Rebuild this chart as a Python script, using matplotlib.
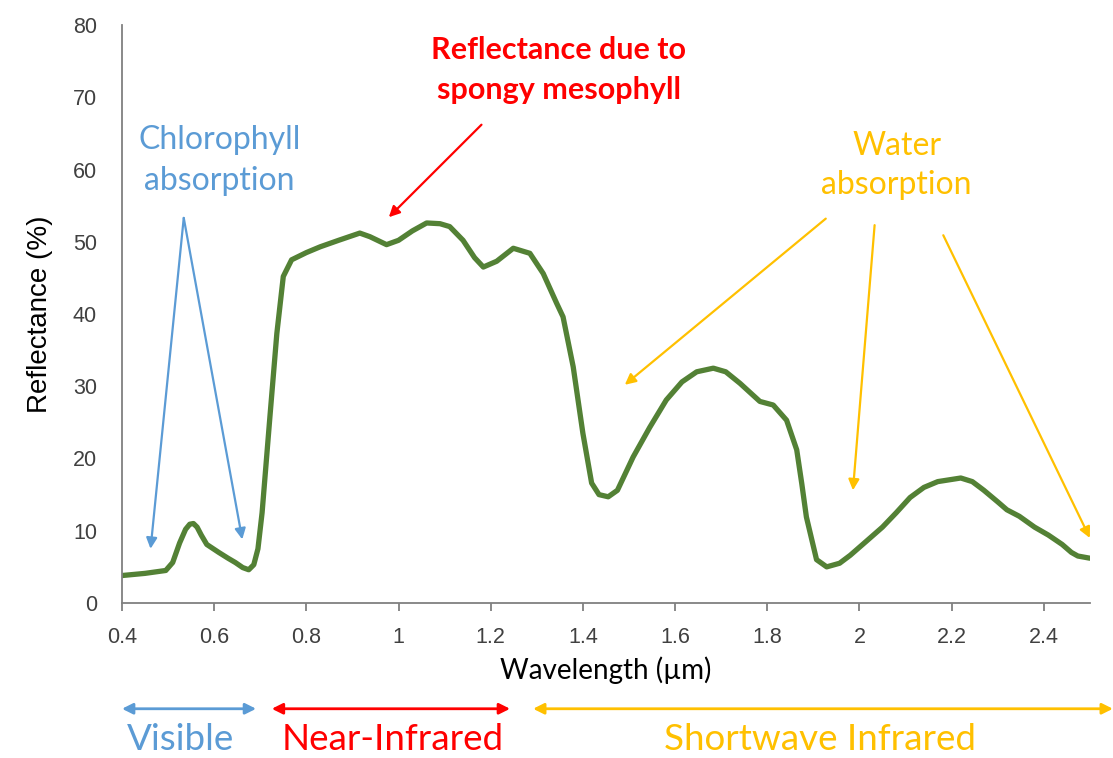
import matplotlib.pyplot as plt

# reflectance curve
wavelength = [0.40, 0.45, 0.495, 0.51, 0.525, 0.538, 0.547, 0.555, 0.563, 0.572,
              0.584, 0.61, 0.63, 0.646, 0.662, 0.675, 0.686, 0.695, 0.704, 0.721,
              0.736, 0.750, 0.768, 0.80, 0.83, 0.87, 0.916, 0.938, 0.974, 1.00,
              1.03, 1.061, 1.09, 1.111, 1.14, 1.165, 1.184, 1.213, 1.249, 1.285,
              1.314, 1.343, 1.357, 1.379, 1.40, 1.419, 1.435, 1.455, 1.475, 1.509,
              1.545, 1.581, 1.615, 1.647, 1.683, 1.71, 1.741, 1.784, 1.813, 1.842,
              1.864, 1.875, 1.885, 1.907, 1.929, 1.957, 1.98, 2.016, 2.05, 2.08,
              2.11, 2.14, 2.17, 2.20, 2.22, 2.245, 2.27, 2.30, 2.32, 2.347,
              2.38, 2.41, 2.44, 2.46, 2.474, 2.50]
reflectance = [3.8, 4.1, 4.5, 5.6, 8.3, 10.2, 10.9, 11.0, 10.5, 9.4,
               8.1, 7.0, 6.2, 5.6, 4.9, 4.6, 5.3, 7.5, 12.5, 25.8,
               37.3, 45.2, 47.5, 48.5, 49.3, 50.2, 51.2, 50.7, 49.6, 50.2,
               51.5, 52.6, 52.5, 52.1, 50.2, 47.8, 46.5, 47.3, 49.1, 48.4,
               45.6, 41.5, 39.6, 32.7, 23.5, 16.6, 15.0, 14.7, 15.6, 20.2,
               24.3, 28.1, 30.6, 32.0, 32.5, 32.0, 30.4, 27.9, 27.4, 25.3,
               21.2, 16.5, 11.9, 6.0, 5.0, 5.5, 6.6, 8.6, 10.5, 12.5,
               14.6, 16.0, 16.8, 17.1, 17.3, 16.8, 15.6, 14.0, 12.9, 12.0,
               10.5, 9.4, 8.1, 7.0, 6.5, 6.2]

x_ticks = [0.4, 0.6, 0.8, 1.0, 1.2, 1.4, 1.6, 1.8, 2.0, 2.2, 2.4]
x_tick_labels = ['0.4', '0.6', '0.8', '1', '1.2', '1.4', '1.6', '1.8', '2', '2.2', '2.4']
y_ticks = [0, 10, 20, 30, 40, 50, 60, 70, 80]

blue = '#5B9BD5'
red = '#FF0000'
gold = '#FFC000'
green = '#538135'
note_font = 'Lato'
note_size = 23

fig = plt.figure(figsize=(11.13, 7.58), dpi=100)
ax = fig.add_axes([0.1096, 0.2045, 0.8696, 0.7625])

ax.plot(wavelength, reflectance, color=green, lw=3.8, solid_capstyle='round',
        solid_joinstyle='round')

ax.set_xlim(0.4, 2.5)
ax.set_ylim(0, 80)
ax.set_xticks(x_ticks)
ax.set_xticklabels(x_tick_labels)
ax.set_yticks(y_ticks)
ax.spines['top'].set_visible(False)
ax.spines['right'].set_visible(False)
for s in ['left', 'bottom']:
    ax.spines[s].set_color('#808080')
    ax.spines[s].set_linewidth(1.3)
ax.tick_params(axis='x', direction='out', length=6, width=1.3, color='#808080',
               pad=11, labelsize=15.5, labelcolor='#404040')
ax.tick_params(axis='y', length=0, pad=18, labelsize=15.5, labelcolor='#404040')
for lab in ax.get_xticklabels() + ax.get_yticklabels():
    lab.set_family('Liberation Sans')

ax.set_xlabel('Wavelength (µm)', fontsize=20, family=note_font, labelpad=6)
ax.set_ylabel('Reflectance (%)', fontsize=20, family='Liberation Sans', labelpad=14)

def arrow(start, end, color):
    ax.annotate('', xy=end, xytext=start, annotation_clip=False,
                arrowprops=dict(arrowstyle='-|>', color=color, lw=1.6,
                                mutation_scale=16, shrinkA=0, shrinkB=0))

# chlorophyll absorption
ax.text(0.612, 64.1, 'Chlorophyll', color=blue, fontsize=note_size, family=note_font,
        ha='center', va='center')
ax.text(0.612, 58.4, 'absorption', color=blue, fontsize=note_size, family=note_font,
        ha='center', va='center')
arrow((0.534, 53.3), (0.462, 7.5), blue)
arrow((0.534, 53.3), (0.661, 8.8), blue)

# spongy mesophyll
ax.text(1.348, 76.5, 'Reflectance due to', color=red, fontsize=note_size - 1,
        family=note_font, fontweight='bold', ha='center', va='center')
ax.text(1.348, 71.0, 'spongy mesophyll', color=red, fontsize=note_size - 1,
        family=note_font, fontweight='bold', ha='center', va='center')
arrow((1.18, 66.2), (0.979, 53.4), red)

# water absorption
ax.text(2.081, 63.3, 'Water', color=gold, fontsize=note_size, family=note_font,
        ha='center', va='center')
ax.text(2.081, 57.9, 'absorption', color=gold, fontsize=note_size, family=note_font,
        ha='center', va='center')
arrow((1.927, 53.2), (1.491, 30.2), gold)
arrow((2.033, 52.3), (1.986, 15.6), gold)
arrow((2.182, 50.9), (2.50, 9.0), gold)

# spectral regions below the axis
trans = ax.get_xaxis_transform()
regions = [('Visible', 0.40, 0.691, blue),
           ('Near-Infrared', 0.725, 1.242, red),
           ('Shortwave Infrared', 1.292, 2.55, gold)]
label_x = [0.526, 0.987, 1.914]
for (name, x0, x1, col), lx in zip(regions, label_x):
    ax.annotate('', xy=(x1, -0.183), xytext=(x0, -0.183), xycoords=trans,
                textcoords=trans, annotation_clip=False,
                arrowprops=dict(arrowstyle='<|-|>', color=col, lw=2,
                                mutation_scale=16, shrinkA=0, shrinkB=0))
    ax.text(lx, -0.254, name, transform=trans, color=col, fontsize=26.5,
            family=note_font, ha='center', va='baseline')

plt.savefig('out.png', dpi=100)
